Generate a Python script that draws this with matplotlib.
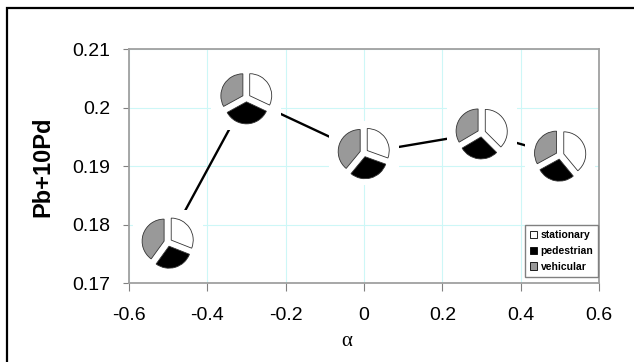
import matplotlib
matplotlib.use('Agg')
import matplotlib.pyplot as plt
from matplotlib.patches import Patch, Rectangle

# data
alpha = [-0.5, -0.3, 0.0, 0.3, 0.5]
pb10pd = [0.177, 0.2017, 0.1923, 0.1957, 0.1919]
stationary = [0.31, 0.32, 0.305, 0.375, 0.39]
pedestrian = [0.29, 0.35, 0.305, 0.29, 0.28]
vehicular = [0.40, 0.33, 0.39, 0.335, 0.33]
labels = ['stationary', 'pedestrian', 'vehicular']
colors = ['white', 'black', '#999999']
xticks = [-0.6, -0.4, -0.2, 0, 0.2, 0.4, 0.6]
yticks = [0.17, 0.18, 0.19, 0.2, 0.21]

plt.rcParams['font.family'] = ['Liberation Sans', 'DejaVu Sans']

fig = plt.figure(figsize=(6.34, 3.62), dpi=100)
W, H = 634, 362
ax = fig.add_axes([128.7 / W, 1 - 283.3 / H, 470.5 / W, 234 / H])

ax.set_xlim(-0.6, 0.6)
ax.set_ylim(0.17, 0.21)
ax.set_xticks(xticks)
ax.set_xticklabels(['-0.6', '-0.4', '-0.2', '0', '0.2', '0.4', '0.6'])
ax.set_yticks(yticks)
ax.set_yticklabels(['0.17', '0.18', '0.19', '0.2', '0.21'])
ax.grid(True, color='#cdf7f7', linewidth=0.8)
ax.set_axisbelow(True)
for s in ax.spines.values():
    s.set_color('#a0a0a0')
    s.set_linewidth(1.3)
ax.tick_params(axis='x', direction='out', length=6, color='#808080', labelsize=14, pad=11)
ax.tick_params(axis='y', direction='out', length=4.5, color='#808080', labelsize=14, pad=9)

ax.plot(alpha, pb10pd, color='black', linewidth=1.7, zorder=2)

# pie markers: white box 70x64 px, 20 px per pie unit
box_w, box_h = 70, 64
for i in range(len(alpha)):
    cx, cy = ax.transAxes.inverted().transform(ax.transData.transform((alpha[i], pb10pd[i])))
    bw = box_w / 470.5
    bh = box_h / 234
    sub = ax.inset_axes([cx - bw / 2, cy - bh / 2, bw, bh], zorder=3)
    sub.set_facecolor('white')
    sub.set_axis_off()
    sub.add_patch(Rectangle((-2, -2), 4, 4, color='white', zorder=0))
    sub.pie([stationary[i], pedestrian[i], vehicular[i]], colors=colors,
            startangle=90, counterclock=False, explode=[0.2, 0.2, 0.2],
            radius=1.1, wedgeprops=dict(edgecolor='#333333', linewidth=0.6))
    sub.set_xlim(-1.75, 1.75)
    sub.set_ylim(-1.6, 1.6)
    sub.set_aspect('auto')

handles = [Patch(facecolor=c, edgecolor='black', linewidth=0.6) for c in colors]
leg = ax.legend(handles, labels, loc='lower right',
                bbox_to_anchor=(0.9985, 0.027), borderaxespad=0,
                prop={'weight': 'bold', 'size': 7.5}, fancybox=False,
                edgecolor='#808080', framealpha=1, handlelength=0.7,
                handleheight=0.7, handletextpad=0.3, labelspacing=0.55,
                borderpad=0.5)
leg.set_zorder(5)
leg.get_frame().set_linewidth(1.0)

fig.text(43 / W, 1 - 167 / H, 'Pb+10Pd', rotation=90, ha='center', va='center',
         fontsize=17, fontweight='bold')
fig.text(347 / W, 1 - 341 / H, 'α', ha='center', va='center', fontsize=15,
         family=['Liberation Serif', 'DejaVu Serif'])

fig.add_artist(Rectangle((7 / W, -0.1), 1.2, 1 - 8.5 / H + 0.1, transform=fig.transFigure,
                         fill=False, edgecolor='black', linewidth=1.6))

fig.savefig('out.png', dpi=100)
